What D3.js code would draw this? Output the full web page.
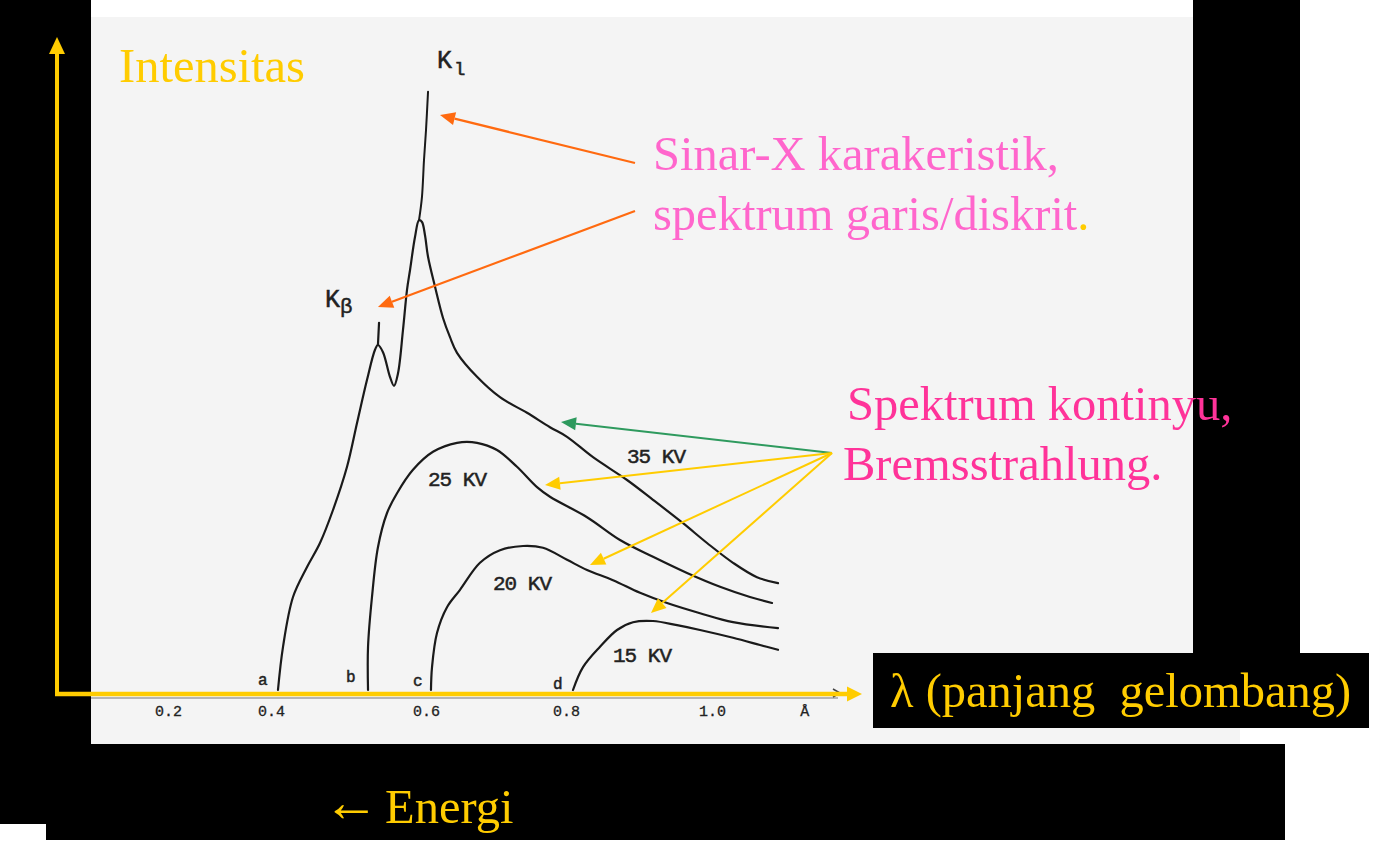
<!DOCTYPE html>
<html><head><meta charset="utf-8">
<script src="https://cdn.jsdelivr.net/npm/d3@7"></script>
<style>html,body{margin:0;padding:0;background:#fff;overflow:hidden}</style>
</head><body><svg id="c" width="1380" height="843"></svg>
<script>
// ---------- data (wavelength in Å, intensity in arbitrary units) ----------
const tickValues = [0.2, 0.4, 0.6, 0.8, 1.0];
const tickLabels = ["0.2", "0.4", "0.6", "0.8", "1.0"];
const unitLabel = "Å";

const kv35 = [[0.409,0],[0.4155,7.2],[0.4284,15.5],[0.4465,20.5],[0.4632,24.5],[0.48,30],[0.4981,37.2],
  [0.511,44.5],[0.5239,51.7],[0.5342,56.7],[0.538,57.5],[0.5445,56.3],[0.5535,52.2],[0.5587,50.7],
  [0.5639,52.8],[0.5703,60],[0.5755,66.7],[0.5794,70],[0.5858,75.5],[0.591,78.3],[0.5948,78],
  [0.5987,75.8],[0.6029,72.2],[0.6129,67.2],[0.6243,62],[0.6343,58.8],[0.6443,56.2],[0.6729,52.2],
  [0.7057,48.8],[0.7443,46.2],[0.7771,43.8],[0.8014,42.2],[0.837,38.8],[0.8836,35],[0.9192,31.7],
  [0.9603,27.8],[0.9932,24.5],[1.0288,21.2],[1.0616,18.8],[1.0904,17.8]];
const kv25 = [[0.5252,0],[0.5252,7.2],[0.5303,15.5],[0.538,23.8],[0.5497,29.5],[0.5626,32.8],[0.5832,36.7],
  [0.61,39.7],[0.6443,41.2],[0.6729,41.2],[0.7014,40],[0.73,37.2],[0.7586,33.8],[0.7771,32.2],
  [0.8288,28.8],[0.874,25],[0.9192,22.2],[0.9658,19.5],[1.011,17.2],[1.052,15.5],[1.0822,14.5]];
const kv20 = [[0.6071,0],[0.6086,3.8],[0.6157,9.5],[0.63,13.8],[0.6486,16.7],[0.6771,21.2],[0.7057,23.3],
  [0.7386,24],[0.7671,23.7],[0.8014,21.7],[0.8288,20],[0.8644,18.3],[0.9014,16.2],[0.9384,14.5],
  [0.9836,12.8],[1.0288,11.3],[1.0904,10.3]];
const kv15 = [[0.8096,0],[0.8233,3.8],[0.8466,7.2],[0.8699,10],[0.8918,11.3],[0.9192,11.5],[0.9521,10.8],
  [0.9836,10],[1.0288,8.7],[1.0658,7.5],[1.0904,6.7]];
const kBetaLine = [[0.538,57.5],[0.5394,61.2]];
const kAlphaLine = [[0.591,78.3],[0.5948,82.2],[0.5974,88.3],[0.6,93.3],[0.6029,99.7]];

const curveLabels = [
  {text:"35 KV", lam:0.8836, I:37.8},
  {text:"25 KV", lam:0.6029, I:34},
  {text:"20 KV", lam:0.6957, I:16.7},
  {text:"15 KV", lam:0.8644, I:4.7}];
const startLabels = [
  {text:"a", lam:0.3748, I:0.8},
  {text:"b", lam:0.4968, I:1.3},
  {text:"c", lam:0.5832, I:0.7},
  {text:"d", lam:0.7814, I:0.2}];

// annotation arrows: [from, to] in data units
const orangeArrows = [[[0.8945,87.83],[0.62,95.83]], [[0.8945,79.83],[0.538,63.83]]];
const greenArrows = [[[1.1644,39.5],[0.7929,44.67]]];
const yellowArrows = [[[1.1644,39.5],[0.77,34.17]], [[1.1644,39.5],[0.8329,20.83]], [[1.1644,39.5],[0.9164,12.83]]];

// ---------- drawing ----------
const svg = d3.select("#c");
const x = d3.scaleLinear().domain([0.2,0.4,0.6,0.8,1.0]).range([168,271,426,566,712]);
const y = d3.scaleLinear().domain([0,100]).range([690,90]);

const serif = "'Liberation Serif','Times New Roman',serif";
const mono = "'Liberation Mono','DejaVu Sans Mono',monospace";
const YEL = "#ffcc00", INK = "#1a1a1a";

// page background & scan
svg.append("rect").attr("width",1380).attr("height",843).attr("fill","#fff");
svg.append("rect").attr("x",91).attr("y",17).attr("width",1149).attr("height",727).attr("fill","#f4f4f4");

// black masks
const blacks = [[0,0,91,824],[46,744,1239,96],[0,744,1285,80],[1193,0,107,653],[873,653,496,75]];
svg.append("g").selectAll("rect").data(blacks).join("rect")
  .attr("x",d=>d[0]).attr("y",d=>d[1]).attr("width",d=>d[2]).attr("height",d=>d[3]).attr("fill","#000");

// scan's own axis line
svg.append("line").attr("x1",91).attr("x2",838).attr("y1",y(0)+8).attr("y2",y(0)+8)
  .attr("stroke","#777").attr("stroke-width",1);
svg.append("path").attr("d",`M833,${y(0)-1} L840,${y(0)+3} L833,${y(0)+7}`).attr("fill","none").attr("stroke","#444").attr("stroke-width",1.5);

// curves
const line = d3.line().x(d=>x(d[0])).y(d=>y(d[1])).curve(d3.curveCatmullRom.alpha(0.5));
const straight = d3.line().x(d=>x(d[0])).y(d=>y(d[1]));
const gC = svg.append("g").attr("fill","none").attr("stroke",INK).attr("stroke-width",2.2)
  .attr("stroke-linejoin","round").attr("stroke-linecap","round");
[kv35, kv25, kv20, kv15].forEach(s => gC.append("path").attr("d", line(s)));
gC.append("path").attr("d", straight(kBetaLine));
gC.append("path").attr("d", line(kAlphaLine)).attr("stroke-width",2);

// scan labels
const inkText = sel => sel.attr("fill","#222").attr("stroke","#222").attr("stroke-width",0.5);
svg.append("g").selectAll("text").data(curveLabels).join("text")
  .attr("x",d=>x(d.lam)).attr("y",d=>y(d.I)).text(d=>d.text)
  .attr("font-family",mono).attr("font-size",21).attr("letter-spacing",-1).call(inkText);
svg.append("g").selectAll("text").data(startLabels).join("text")
  .attr("x",d=>x(d.lam)).attr("y",d=>y(d.I)).text(d=>d.text)
  .attr("font-family",mono).attr("font-size",16).call(inkText);
const k1 = svg.append("text").attr("x",x(0.6157)).attr("y",y(103.7)).attr("font-family",mono).attr("font-size",25).call(inkText);
k1.append("tspan").text("K");
k1.append("tspan").attr("font-size",19).attr("dx",2).attr("dy",7).text("l");
const kb = svg.append("text").attr("x",x(0.4697)).attr("y",y(63.8)).attr("font-family",mono).attr("font-size",25).call(inkText);
kb.append("tspan").text("K");
kb.append("tspan").attr("font-size",21).attr("dy",6).text("β");

// tick labels via d3 axis
const gx = svg.append("g").attr("transform",`translate(0,${y(0)+12})`)
  .call(d3.axisBottom(x).tickValues(tickValues).tickFormat((d,i)=>tickLabels[i]).tickSize(0));
gx.select(".domain").remove();
gx.selectAll("text").attr("font-family",mono).attr("font-size",15).call(inkText).attr("stroke-width",0.3);
svg.append("text").attr("x",x(1.127)).attr("y",y(0)+26).attr("text-anchor","middle")
  .attr("font-family",mono).attr("font-size",15).call(inkText).attr("stroke-width",0.3).text(unitLabel);

// yellow axes
const ax = svg.append("g");
ax.append("line").attr("x1",57).attr("x2",57).attr("y1",y(0)+6).attr("y2",52).attr("stroke",YEL).attr("stroke-width",4);
ax.append("path").attr("d","M57,37 L65,54 L49,54 Z").attr("fill",YEL);
ax.append("line").attr("x1",55).attr("x2",849).attr("y1",y(0)+4).attr("y2",y(0)+4).attr("stroke",YEL).attr("stroke-width",4.5);
ax.append("path").attr("d",`M862,${y(0)+4} L847,${y(0)-3.5} L847,${y(0)+11.5} Z`).attr("fill",YEL);

// annotation arrows
function arrow(g, a, color, w){
  const x1=x(a[0][0]), y1=y(a[0][1]), x2=x(a[1][0]), y2=y(a[1][1]);
  const ang=Math.atan2(y2-y1,x2-x1), L=15, H=6.5;
  const bx=x2-L*Math.cos(ang), by=y2-L*Math.sin(ang);
  g.append("line").attr("x1",x1).attr("y1",y1).attr("x2",bx).attr("y2",by).attr("stroke",color).attr("stroke-width",w);
  g.append("path").attr("fill",color).attr("d",
    `M${x2},${y2} L${bx+H*Math.sin(ang)},${by-H*Math.cos(ang)} L${bx-H*Math.sin(ang)},${by+H*Math.cos(ang)} Z`);
}
const gA = svg.append("g");
orangeArrows.forEach(a=>arrow(gA,a,"#ff6a10",2.2));
greenArrows.forEach(a=>arrow(gA,a,"#2e9a5e",2));
yellowArrows.forEach(a=>arrow(gA,a,YEL,2));

// big texts
function big(xp, yp, fill){ return svg.append("text").attr("x",xp).attr("y",yp).attr("font-family",serif).attr("font-size",48.5).attr("fill",fill); }
big(119,82,YEL).text("Intensitas");
big(653,170,"#ff66cc").text("Sinar-X karakeristik,");
const t2 = big(653,230,"#ff66cc"); t2.append("tspan").text("spektrum garis/diskrit"); t2.append("tspan").attr("fill",YEL).text(".");
big(847,420,"#ff3399").text("Spektrum kontinyu,");
big(843,480,"#ff3399").text("Bremsstrahlung.");
big(890,707,YEL).text("λ (panjang  gelombang)").style("white-space","pre");
const en = big(323,823,YEL);
en.append("tspan").attr("font-size",56).attr("dy",-2).text("←");
en.append("tspan").attr("dy",2).attr("dx",6).text("Energi");
</script></body></html>
